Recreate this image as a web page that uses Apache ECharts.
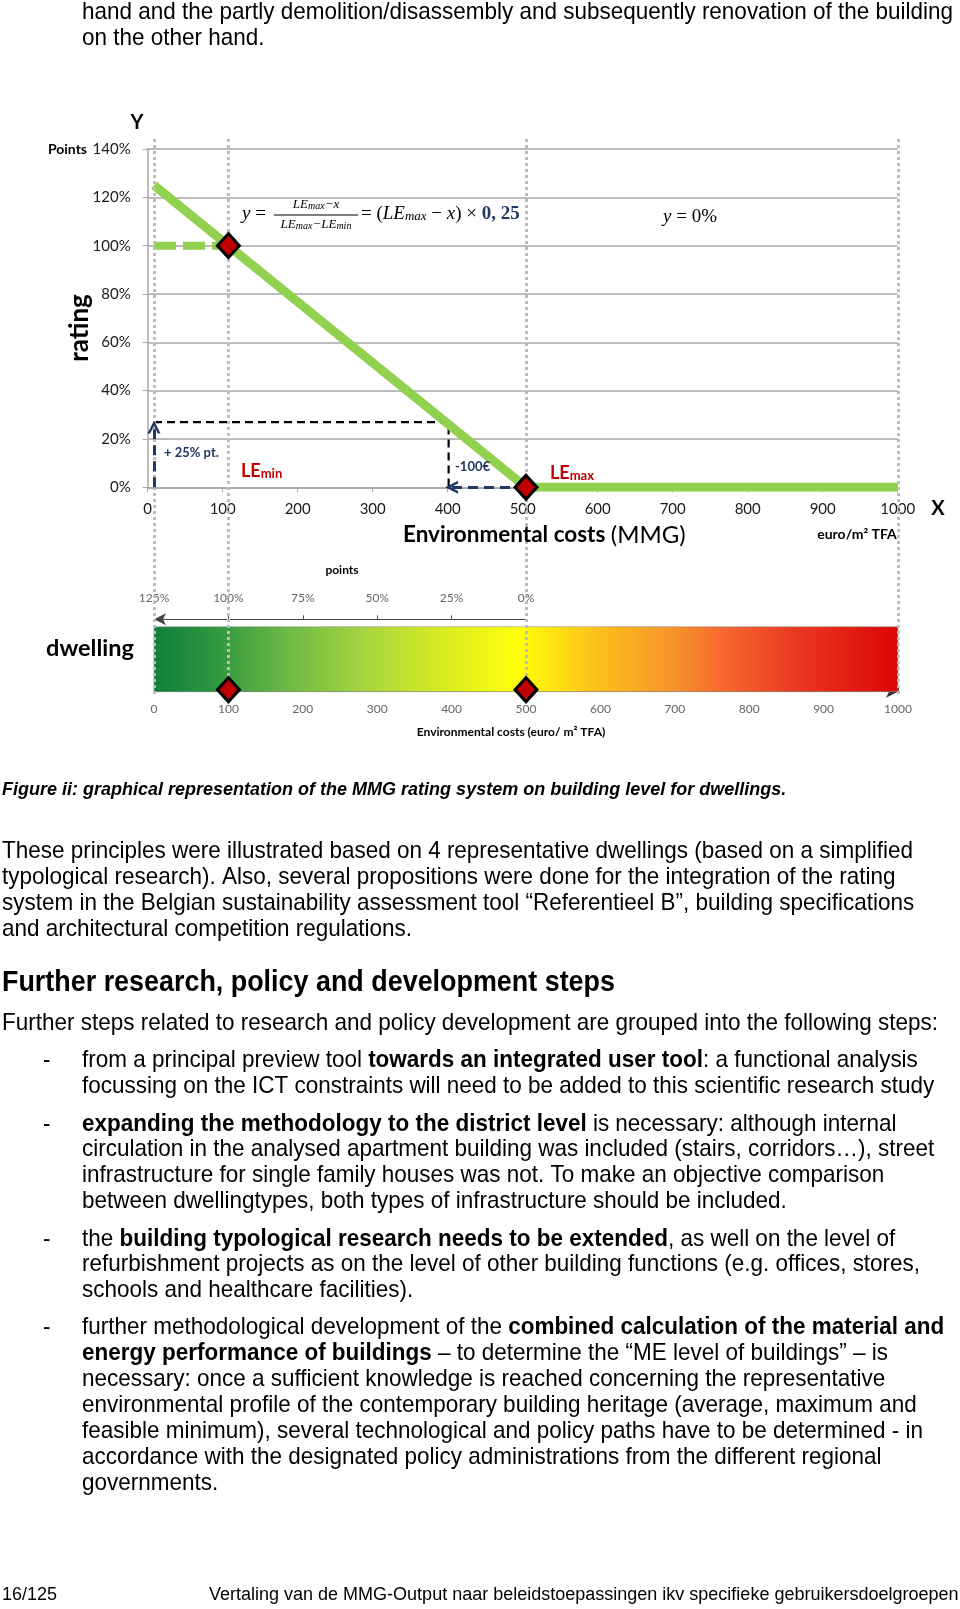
<!DOCTYPE html>
<html><head><meta charset="utf-8">
<script src="https://cdn.jsdelivr.net/npm/echarts@6/dist/echarts.min.js"></script>
<style>html,body{margin:0;padding:0;background:#fff}#c{width:960px;height:1609px}</style>
</head><body><div id="c"></div>
<script>
// ---------- chart data ----------
const ratingLine = [[0, 125], [500, 0], [1000, 0]];      // rating (%) vs environmental cost (euro/m² TFA)
const refLine100 = [[0, 100], [100, 100]];              // 100 % reference level
const limitPoints = [[100, 100], [500, 0]];             // LEmin, LEmax
const stepPath = [[0, 27], [396, 27], [396, 0]];        // -100€ → +25% pt. illustration
const arrowUp = [[0, 0], [0, 25]];
const arrowLeft = [[500, 0], [400, 0]];
const guideX = [0, 100, 500, 1000];
const barRange = [[0, 1000]];
const barDiamonds = [100, 500];
const pointValues = [0, 100, 200, 300, 400, 500];
const pointLabels = ['125%', '100%', '75%', '50%', '25%', '0%'];
const pointTicks = [100, 200, 300, 400];

// ---------- page text ----------
const SANS = '"Liberation Sans", Arial, sans-serif';
const CH = 'Lato, "Open Sans", sans-serif';
const ctx = document.createElement('canvas').getContext('2d');
function mw(t, font) { ctx.font = font; return ctx.measureText(t).width; }
const BODY = 24;
const refLineTxt = 'These principles were illustrated based on 4 representative dwellings (based on a simplified';
const SX = 911 / mw(refLineTxt, BODY + 'px ' + SANS);

const bodyLines = [
  [82, 12, 'hand and the partly demolition/disassembly and subsequently renovation of the building'],
  [82, 38, 'on the other hand.'],
  [2, 851, refLineTxt],
  [2, 877, 'typological research). Also, several propositions were done for the integration of the rating'],
  [2, 903, 'system in the Belgian sustainability assessment tool “Referentieel B”, building specifications'],
  [2, 929, 'and architectural competition regulations.'],
  [2, 1023, 'Further steps related to research and policy development are grouped into the following steps:'],
  [43, 1060, '-'],
  [82, 1060, 'from a principal preview tool {b|towards an integrated user tool}: a functional analysis'],
  [82, 1086, 'focussing on the ICT constraints will need to be added to this scientific research study'],
  [43, 1124, '-'],
  [82, 1124, '{b|expanding the methodology to the district level} is necessary: although internal'],
  [82, 1149, 'circulation in the analysed apartment building was included (stairs, corridors…), street'],
  [82, 1175, 'infrastructure for single family houses was not. To make an objective comparison'],
  [82, 1201, 'between dwellingtypes, both types of infrastructure should be included.'],
  [43, 1239, '-'],
  [82, 1239, 'the {b|building typological research needs to be extended}, as well on the level of'],
  [82, 1264, 'refurbishment projects as on the level of other building functions (e.g. offices, stores,'],
  [82, 1290, 'schools and healthcare facilities).'],
  [43, 1327, '-'],
  [82, 1327, 'further methodological development of the {b|combined calculation of the material and}'],
  [82, 1353, '{b|energy performance of buildings} – to determine the “ME level of buildings” – is'],
  [82, 1379, 'necessary: once a sufficient knowledge is reached concerning the representative'],
  [82, 1405, 'environmental profile of the contemporary building heritage (average, maximum and'],
  [82, 1431, 'feasible minimum), several technological and policy paths have to be determined - in'],
  [82, 1457, 'accordance with the designated policy administrations from the different regional'],
  [82, 1483, 'governments.']
];

const graphics = [];
function txt(x, y, text, size, opts) {
  opts = opts || {};
  const weight = opts.weight || 'normal';
  const style = opts.style || 'normal';
  const fam = opts.family || SANS;
  return {
    type: 'text', x: x, y: y, scaleX: opts.sx === undefined ? SX : opts.sx, rotation: opts.rot || 0, z: 100,
    style: {
      text: text, fontSize: size, fontFamily: fam, fontWeight: weight, fontStyle: style,
      fill: opts.color || '#000', align: opts.align || 'left', verticalAlign: 'middle',
      rich: Object.assign({
        b: { fontSize: size, fontFamily: fam, fontWeight: 'bold', fill: opts.color || '#000' }
      }, opts.rich || {})
    }
  };
}
bodyLines.forEach(l => graphics.push(txt(l[0], l[1], l[2], BODY)));

// caption, heading, footer sized to their widths
const capTxt = 'Figure ii: graphical representation of the MMG rating system on building level for dwellings.';
const capSize = 785 / (mw(capTxt, 'italic bold 1px ' + SANS) * SX);
graphics.push(txt(2, 790, capTxt, capSize, { weight: 'bold', style: 'italic' }));
const headTxt = 'Further research, policy and development steps';
const headSize = 613 / (mw(headTxt, 'bold 1px ' + SANS) * SX);
graphics.push(txt(2, 983, headTxt, headSize, { weight: 'bold' }));
const footTxt = 'Vertaling van de MMG-Output naar beleidstoepassingen ikv specifieke gebruikersdoelgroepen';
const footSize = 750 / (mw(footTxt, '1px ' + SANS) * SX);
graphics.push(txt(2, 1595, '16/125', footSize));
graphics.push(txt(209, 1595, footTxt, footSize));

// ---------- chart annotations ----------
const SERIF = '"Liberation Serif", "DejaVu Serif", serif';
const it = (s) => ({ fontSize: s, fontFamily: SERIF, fontStyle: 'italic', fill: '#000' });
const sub = (s) => ({ fontSize: s, fontFamily: SERIF, fontStyle: 'italic', fill: '#000', verticalAlign: 'bottom' });
graphics.push(txt(242, 214, '{i|y} =', 19, { sx: 1, family: SERIF, rich: { i: it(19) } }));
graphics.push(txt(316, 205, '{i|LE}{s|max}{i|−x}', 13, { sx: 1, family: SERIF, align: 'center', rich: { i: it(13), s: sub(10) } }));
graphics.push({ type: 'line', z: 100, shape: { x1: 274, y1: 215, x2: 358, y2: 215 }, style: { stroke: '#000', lineWidth: 1 } });
graphics.push(txt(316, 225, '{i|LE}{s|max}{i|−LE}{s|min}', 13, { sx: 1, family: SERIF, align: 'center', rich: { i: it(13), s: sub(10) } }));
graphics.push(txt(361, 214, '= ({i|LE}{s|max} − {i|x}) × {n|0, 25}', 19, { sx: 1, family: SERIF,
  rich: { i: it(19), s: sub(13), n: { fontSize: 19, fontFamily: SERIF, fontWeight: 'bold', fill: '#1F3864' } } }));
graphics.push(txt(663, 217, '{i|y} = 0%', 19, { sx: 1, family: SERIF, rich: { i: it(19) } }));

const red = '#C00000', navy = '#1F3864';
const leRich = { s: { fontSize: 13, fontFamily: CH, fontWeight: 'bold', fill: red, verticalAlign: 'bottom' } };
graphics.push(txt(241, 471, 'LE{s|min}', 18, { sx: 1, family: CH, weight: 'bold', color: red, rich: leRich }));
graphics.push(txt(550, 473, 'LE{s|max}', 18, { sx: 1, family: CH, weight: 'bold', color: red, rich: leRich }));
graphics.push(txt(164, 453, '+ 25% pt.', 13, { sx: 1, family: CH, weight: 'bold', color: navy }));
graphics.push(txt(455, 467, '-100€', 13, { sx: 1, family: CH, weight: 'bold', color: navy }));

graphics.push(txt(137, 123, 'Y', 20, { sx: 1, family: CH, weight: 'bold', align: 'center' }));
graphics.push(txt(87, 149, 'Points', 14, { sx: 1, family: CH, weight: 'bold', align: 'right' }));
graphics.push(txt(80, 328, 'rating', 26, { sx: 1, family: CH, weight: 'bold', align: 'center', rot: Math.PI / 2 }));
graphics.push(txt(938, 509, 'X', 20, { sx: 1, family: CH, weight: 'bold', align: 'center' }));
graphics.push(txt(403, 535, 'Environmental costs {n|(MMG)}', 22.5, { sx: 1, family: CH, weight: 'bold', align: 'left',
  rich: { n: { fontSize: 24, fontFamily: CH, fontWeight: 'normal', fill: '#000' } } }));
graphics.push(txt(857, 534, 'euro/m² TFA', 14, { sx: 1, family: CH, weight: 'bold', align: 'center' }));
graphics.push(txt(342, 570, 'points', 12, { sx: 1, family: CH, weight: 'bold', align: 'center' }));
graphics.push(txt(90, 648, 'dwelling', 23.5, { sx: 1, family: CH, weight: 'bold', align: 'center' }));
graphics.push(txt(511, 732, 'Environmental costs (euro/ m² TFA)', 12, { sx: 1, family: CH, weight: 'bold', align: 'center' }));

// ---------- chart ----------
const chart = echarts.init(document.getElementById('c'), null, { renderer: 'canvas' });
const grad = new echarts.graphic.LinearGradient(0, 0, 1, 0, [
  { offset: 0.00, color: '#0E7E3A' },
  { offset: 0.08, color: '#2E963F' },
  { offset: 0.18, color: '#6CB944' },
  { offset: 0.28, color: '#A5D540' },
  { offset: 0.40, color: '#DDEE1E' },
  { offset: 0.49, color: '#FFFF08' },
  { offset: 0.60, color: '#FBBE1C' },
  { offset: 0.70, color: '#F7922A' },
  { offset: 0.77, color: '#F5652E' },
  { offset: 0.88, color: '#E8321F' },
  { offset: 1.00, color: '#DC0505' }
]);
const chevron = 'path://M0,12 L6,0 L12,12 L9.5,12 L6,5 L2.5,12 Z';
const gray = '#A6A6A6';
const plain = v => String(v);

const hidden = (grid, min, max) => ({ gridIndex: grid, type: 'value', min: min, max: max, show: false });

chart.setOption({
  animation: false,
  textStyle: { fontFamily: CH },
  grid: [
    { left: 147.7, top: 149, width: 750, height: 338.3 },
    { left: 154, top: 149, width: 744, height: 338.3 },
    { left: 154, top: 138, width: 744, height: 556 },
    { left: 154, top: 626.7, width: 744, height: 65 },
    { left: 154, top: 618.3, width: 372, height: 1 }
  ],
  xAxis: [
    { gridIndex: 0, type: 'value', min: 0, max: 1000, interval: 100,
      axisLine: { show: true, lineStyle: { color: gray, width: 1.5 } },
      axisTick: { show: true, length: 5, lineStyle: { color: gray } },
      axisLabel: { fontSize: 15, color: '#1a1a1a', margin: 14, fontFamily: CH, formatter: plain },
      splitLine: { show: false } },
    hidden(1, 0, 1000),
    hidden(2, 0, 1000),
    { gridIndex: 3, type: 'value', min: 0, max: 1000, interval: 100,
      axisLine: { show: true, symbol: ['none', 'arrow'], symbolSize: [9, 12], lineStyle: { color: '#333', width: 1 } },
      axisTick: { show: true, inside: true, length: 5, lineStyle: { color: '#333' } },
      axisLabel: { fontSize: 12, color: '#666', margin: 11, fontFamily: CH, formatter: plain },
      splitLine: { show: false } },
    { gridIndex: 4, type: 'value', position: 'top', min: 0, max: 500, interval: 100,
      axisLine: { show: true, symbol: ['arrow', 'none'], symbolSize: [9, 12], lineStyle: { color: '#444', width: 1 } },
      axisTick: { show: true, customValues: pointTicks, length: 4, lineStyle: { color: '#555' } },
      axisLabel: { fontSize: 12, color: '#666', margin: 14, fontFamily: CH, customValues: pointValues,
        formatter: v => pointLabels[pointValues.indexOf(v)] },
      splitLine: { show: false } }
  ],
  yAxis: [
    { gridIndex: 0, type: 'value', min: 0, max: 140, interval: 20,
      axisLine: { show: true, lineStyle: { color: gray, width: 1.5 } },
      axisTick: { show: true, length: 5, lineStyle: { color: gray } },
      axisLabel: { fontSize: 15, color: '#1a1a1a', margin: 17, fontFamily: CH, formatter: '{value}%' },
      splitLine: { show: true, lineStyle: { color: gray, width: 1.5 } } },
    hidden(1, 0, 140),
    hidden(2, 0, 1),
    hidden(3, 0, 1),
    hidden(4, 0, 1)
  ],
  graphic: { elements: graphics },
  series: [
    { type: 'line', xAxisIndex: 0, yAxisIndex: 0, data: [], silent: true },
    { type: 'line', xAxisIndex: 4, yAxisIndex: 4, data: [], silent: true },
    { type: 'custom', xAxisIndex: 3, yAxisIndex: 3, z: 1, data: barRange, encode: { x: [0, 1] },
      renderItem: (params, api) => {
        const a = api.coord([api.value(0), 1]);
        const b = api.coord([api.value(1), 0]);
        return { type: 'rect', shape: { x: a[0], y: a[1], width: b[0] - a[0], height: b[1] - a[1] },
          style: { fill: grad, stroke: '#9a9a9a', lineWidth: 0.6 } };
      } },
    { type: 'scatter', xAxisIndex: 2, yAxisIndex: 2, z: 2, data: [], silent: true,
      markLine: { silent: true, symbol: ['none', 'none'], label: { show: false },
        lineStyle: { color: '#BDBDBD', width: 3, type: [3, 3] },
        data: guideX.map(v => ({ xAxis: v })) } },
    { type: 'line', xAxisIndex: 1, yAxisIndex: 1, z: 3, data: stepPath, showSymbol: false, silent: true,
      lineStyle: { color: '#000', width: 2.2, type: [8, 5] } },
    { type: 'line', xAxisIndex: 1, yAxisIndex: 1, z: 4, data: ratingLine, showSymbol: false, silent: true,
      lineStyle: { color: '#92D050', width: 9 } },
    { type: 'line', xAxisIndex: 1, yAxisIndex: 1, z: 4, data: refLine100, showSymbol: false, silent: true,
      lineStyle: { color: '#92D050', width: 8, type: [22, 7] } },
    { type: 'scatter', xAxisIndex: 1, yAxisIndex: 1, z: 5, data: [], silent: true,
      markLine: { silent: true, symbol: ['none', chevron], symbolSize: [13, 13], label: { show: false },
        lineStyle: { color: navy, width: 3, type: [10, 6] },
        data: [
          [{ coord: arrowUp[0] }, { coord: arrowUp[1] }],
          [{ coord: arrowLeft[0] }, { coord: arrowLeft[1] }]
        ] } },
    { type: 'scatter', xAxisIndex: 1, yAxisIndex: 1, z: 6, data: limitPoints, symbol: 'diamond', symbolSize: [22, 24],
      itemStyle: { color: red, borderColor: '#000', borderWidth: 3, opacity: 1 }, silent: true },
    { type: 'scatter', xAxisIndex: 3, yAxisIndex: 3, z: 6, data: barDiamonds.map(v => [v, 0]), symbol: 'diamond',
      symbolSize: [22, 24], symbolOffset: [0, -2],
      itemStyle: { color: red, borderColor: '#000', borderWidth: 3, opacity: 1 }, silent: true }
  ]
});
</script></body></html>
